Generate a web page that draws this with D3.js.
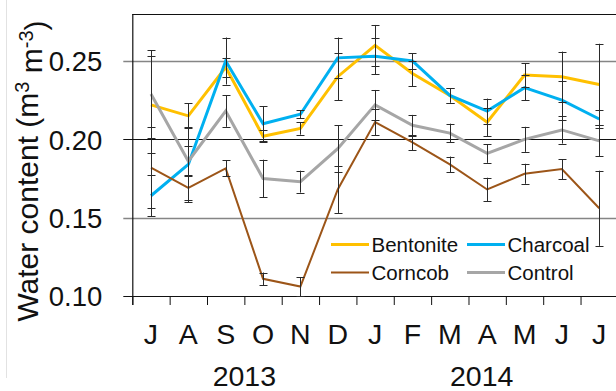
<!DOCTYPE html>
<html><head><meta charset="utf-8">
<script src="https://cdn.jsdelivr.net/npm/d3@7"></script>
<style>
body{margin:0;background:#fff;overflow:hidden}
svg{display:block}
text{font-family:"Liberation Sans",Arial,sans-serif;fill:#111}
</style></head>
<body><svg id="c" width="616" height="391"></svg>
<script>
const months = ["J","A","S","O","N","D","J","F","M","A","M","J","J"];
const years = ["2013","2014"];
const yearFirst = [0, 6];
const yearLast = [5, 12];
const yTicks = [0.10, 0.15, 0.20, 0.25];

const bentonite    = [0.222,0.215,0.246,0.202,0.207,0.240,0.260,0.242,0.228,0.211,0.241,0.240,0.235];
const bentoniteErr = [0.031,0.008,0.006,0.004,0.004,0.015,0.013,0.008,0.0045,0.009,0.0075,0.016,0.026];
const charcoal     = [0.164,0.184,0.250,0.210,0.216,0.252,0.253,0.250,0.228,0.218,0.233,0.225,0.213];
const charcoalErr  = [0.013,0.024,0.015,0.011,0.0025,0.013,0.0115,0.005,0.0045,0.008,0.008,0.0125,0.006];
const corncob      = [0.182,0.169,0.1815,0.111,0.106,0.168,0.211,0.198,0.184,0.168,0.178,0.181,0.156];
const corncobErr   = [0.026,0.008,0.005,0.004,0.006,0.015,0.0085,0.005,0.005,0.0075,0.0064,0.0064,0.024];
const control      = [0.229,0.186,0.218,0.175,0.173,0.194,0.222,0.209,0.204,0.191,0.200,0.206,0.199];
const controlErr   = [0.028,0.0095,0.010,0.012,0.007,0.015,0.0095,0.0066,0.006,0.006,0.008,0.0087,0.0099];

const seriesNames = ["Bentonite","Charcoal","Corncob","Control"];
const seriesColors = ["#FFC000","#00B0F0","#9C5518","#A6A6A6"];
const seriesWidths = [3,3,2,3];
const seriesData = [bentonite, charcoal, corncob, control];
const seriesErr = [bentoniteErr, charcoalErr, corncobErr, controlErr];

const svg = d3.select("#c");
const L = 132.3, R = 617.9, T = 14, B = 296;
const x = d3.scaleBand().domain(d3.range(months.length)).range([L, R]).padding(0);
const xb = d3.scaleLinear().domain([0, months.length]).range([L, R]);
const y = d3.scaleLinear().domain([0.10, 0.28]).range([B, T]);
const cx = i => x(i) + x.bandwidth()/2;

// faint page edge line
svg.append("line").attr("x1",6.5).attr("x2",6.5).attr("y1",0).attr("y2",378)
  .attr("stroke","#e2e2e2").attr("stroke-width",1);

// gridlines
const gridColor = d => (Math.abs(d-0.20)<1e-9 || Math.abs(d-0.10)<1e-9) ? "#111" : "#858585";
svg.append("g").selectAll("line").data(yTicks).join("line")
  .attr("x1", L-9).attr("x2", 616)
  .attr("y1", d => Math.round(y(d))+0.5).attr("y2", d => Math.round(y(d))+0.5)
  .attr("stroke", gridColor).attr("stroke-width", d => gridColor(d)==="#111"?1.2:1.5);

// top border
svg.append("line").attr("x1",L).attr("x2",616).attr("y1",y(0.28)+0.5).attr("y2",y(0.28)+0.5)
  .attr("stroke","#111").attr("stroke-width",1.2);

// y axis labels
const yAxis = d3.axisLeft(y).tickValues(yTicks).tickFormat(d3.format(".2f")).tickSize(0).tickPadding(30);
const ya = svg.append("g").attr("transform",`translate(${L},0)`).call(yAxis);
ya.select(".domain").remove();
ya.selectAll("text").attr("font-size",27.5).attr("font-family","Liberation Sans, Arial, sans-serif").attr("fill","#111").attr("dy","0.36em");

// y axis line
svg.append("line").attr("x1",L+0.5).attr("x2",L+0.5).attr("y1",T).attr("y2",B+9)
  .attr("stroke","#111").attr("stroke-width",1.2);

// x axis ticks at band boundaries
const xAxis = d3.axisBottom(xb).tickValues(d3.range(months.length+1)).tickFormat("").tickSizeInner(9).tickSizeOuter(0);
const xa = svg.append("g").attr("transform",`translate(0,${B})`).call(xAxis);
xa.select(".domain").remove();
xa.selectAll("line").attr("stroke","#111").attr("stroke-width",1);

// month labels
svg.append("g").selectAll("text").data(months).join("text")
  .attr("x",(d,i)=>cx(i)).attr("y",343.5).attr("text-anchor","middle")
  .attr("font-size",28.5).text(d=>d);

// year labels
svg.append("g").selectAll("text").data(years).join("text")
  .attr("x",(d,i)=> i===0 ? (cx(yearFirst[i])+cx(yearLast[i]))/2 : (cx(yearFirst[i])+cx(yearLast[i]))/2 - 5.5)
  .attr("y",386).attr("text-anchor","middle").attr("font-size",28.5).text(d=>d);

// y title
const t = svg.append("text").attr("transform","translate(37.5,171) rotate(-90)")
  .attr("text-anchor","middle").attr("font-size",30);
t.append("tspan").text("Water content (m");
t.append("tspan").attr("dy","-0.42em").attr("font-size",20).text("3");
t.append("tspan").attr("dy","0.42em").text(" m");
t.append("tspan").attr("dy","-0.42em").attr("font-size",20).text("-3");
t.append("tspan").attr("dy","0.42em").text(")");

// lines
const line = d3.line().x((d,i)=>cx(i)).y(d=>y(d));
const lg = svg.append("g");
seriesData.forEach((s,k)=>{
  lg.append("path").datum(s).attr("d",line).attr("fill","none")
    .attr("stroke",seriesColors[k]).attr("stroke-width",seriesWidths[k])
    .attr("stroke-linejoin","miter");
});

// error bars
const eg = svg.append("g").attr("stroke","#2a2a2a").attr("stroke-width",1);
seriesData.forEach((s,k)=>{
  s.forEach((v,i)=>{
    const e = seriesErr[k][i];
    const xx = Math.round(cx(i))+0.5;
    eg.append("line").attr("x1",xx).attr("x2",xx).attr("y1",y(v+e)).attr("y2",y(v-e));
    eg.append("line").attr("x1",xx-4).attr("x2",xx+4).attr("y1",Math.round(y(v+e))+0.5).attr("y2",Math.round(y(v+e))+0.5);
    eg.append("line").attr("x1",xx-4).attr("x2",xx+4).attr("y1",Math.round(y(v-e))+0.5).attr("y2",Math.round(y(v-e))+0.5);
  });
});

// legend
const legX = [331, 467], legY = [244.5, 272.5];
seriesNames.forEach((n,k)=>{
  const col = k%2, row = Math.floor(k/2);
  const g = svg.append("g");
  g.append("line").attr("x1",legX[col]).attr("x2",legX[col]+38).attr("y1",legY[row]).attr("y2",legY[row])
    .attr("stroke",seriesColors[k]).attr("stroke-width",seriesWidths[k]);
  g.append("text").attr("x",legX[col]+40.5).attr("y",legY[row]).attr("dy","0.36em")
    .attr("font-size",20.5).text(n);
});
</script></body></html>
